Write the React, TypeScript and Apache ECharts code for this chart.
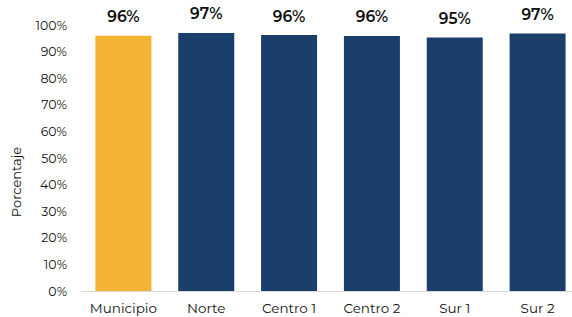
import React, { useEffect, useRef } from "react";
import * as echarts from "echarts";

const categories = ["Municipio", "Norte", "Centro 1", "Centro 2", "Sur 1", "Sur 2"];
const values = [96.0, 97.0, 96.2, 95.9, 95.3, 96.8];
const labels = ["96%", "97%", "96%", "96%", "95%", "97%"];
const colors = ["#F4B335", "#1B3F6B", "#1B3F6B", "#1B3F6B", "#1B3F6B", "#1B3F6B"];

export default function App() {
  const ref = useRef<HTMLDivElement>(null);
  useEffect(() => {
    const chart = echarts.init(ref.current!, null, { renderer: "svg" });
    const font = "Montserrat, 'Open Sans', 'Noto Sans', sans-serif";
    chart.setOption({
      animation: false,
      grid: { left: 82, width: 497, top: 25, bottom: 26, containLabel: false, outerBoundsMode: "none" },
      xAxis: {
        type: "category",
        data: categories,
        axisLine: { lineStyle: { color: "#D9D9D9" } },
        axisTick: { show: false },
        axisLabel: { color: "#111", fontSize: 13.5, fontFamily: font, margin: 10, interval: 0 },
      },
      yAxis: {
        type: "value",
        min: 0,
        max: 100,
        interval: 10,
        splitLine: { show: false },
        axisLine: { show: false },
        axisTick: { show: false },
        axisLabel: { color: "#111", fontSize: 12.5, fontFamily: font, formatter: "{value}%", margin: 15 },
      },
      graphic: [
        {
          type: "text",
          x: 16,
          y: 182,
          rotation: Math.PI / 2,
          style: {
            text: "Porcentaje",
            fill: "#111",
            font: "13px " + font,
            align: "center",
            verticalAlign: "middle",
          },
        },
      ],
      series: [
        {
          type: "bar",
          barWidth: 56,
          data: values.map((v, i) => ({
            value: v,
            itemStyle: { color: colors[i] },
            label: { formatter: labels[i] },
          })),
          label: {
            show: true,
            position: "top",
            distance: 11,
            color: "#111",
            fontSize: 15.5,
            fontWeight: 600,
            fontFamily: font,
          },
        },
      ],
    });
    return () => chart.dispose();
  }, []);
  return <div ref={ref} style={{ width: 572, height: 317, position: "absolute", left: 0, top: 0, background: "#fff" }} />;
}
